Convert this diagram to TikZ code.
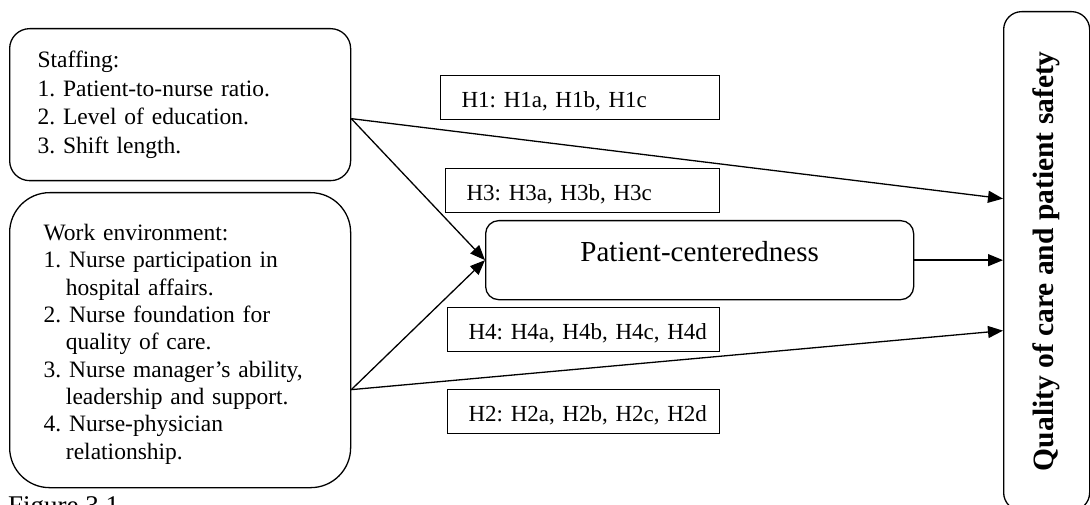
\documentclass[tikz,border=0pt]{standalone}
\usepackage{fontspec}
\setmainfont{Liberation Serif}
\usepackage{graphicx}
\usetikzlibrary{arrows.meta,positioning,calc}
\frenchspacing

\begin{document}
\begin{tikzpicture}[x=1pt,y=-1pt,>={Triangle[length=15pt,width=12pt]},
  every node/.style={font=\fontsize{23.5}{28.5}\selectfont},
  factor/.style={draw,line width=1.3pt,anchor=north west,align=left},
  hyp/.style={draw,line width=1.2pt,anchor=north west,align=left,
    inner xsep=0pt,inner ysep=0pt,text height=32pt,text depth=12pt,
    text width=#1,font=\fontsize{23}{28}\selectfont,
    execute at begin node={\hspace*{21pt}}},
  link/.style={->,line width=1.3pt}]
  \useasboundingbox (0,0) rectangle (1090,505);

  % predictors
  \node[factor,rounded corners=20pt,inner xsep=28pt,text width=285pt,
    minimum height=152pt] (staff) at (9,28)
    {Staffing:\\1. Patient-to-nurse ratio.\\2. Level of education.\\3. Shift length.};
  \node[factor,rounded corners=40pt,inner xsep=34pt,text width=273pt,
    minimum height=295pt,font=\fontsize{23.5}{27.3}\selectfont] (work) at (9,192)
    {\rule{0pt}{24.5pt}Work environment:\\
     1. Nurse participation in\\\hspace*{0.95em}hospital affairs.\\
     2. Nurse foundation for\\\hspace*{0.95em}quality of care.\\
     3. Nurse manager’s ability,\\\hspace*{0.95em}leadership and support.\\
     4. Nurse-physician\\\hspace*{0.95em}relationship.};
  \node[anchor=base west,inner sep=0pt,font=\fontsize{27}{32}\selectfont] (caption) at (8,514) {Figure 3.1};

  % mediator and outcome
  \node[draw,line width=1.3pt,rounded corners=13pt,anchor=north west,
    minimum width=428pt,inner sep=0pt,text height=41pt,text depth=38pt,
    font=\fontsize{29}{34}\selectfont] (centred) at (485,220) {Patient-centeredness};
  \node[draw,line width=1.3pt,rounded corners=18pt,anchor=north west,
    minimum width=86pt,minimum height=499pt,inner sep=0pt,
    font=\bfseries\fontsize{29.5}{34}\selectfont] (quality) at (1003,11)
    {\rotatebox{90}{Quality of care and patient safety}};

  % hypotheses
  \node[hyp=279pt] (h1) at (440,75) {H1: H1a, H1b, H1c};
  \node[hyp=274pt] (h3) at (445,168) {H3: H3a, H3b, H3c};
  \node[hyp=272pt] (h4) at (447,307) {H4: H4a, H4b, H4c, H4d};
  \node[hyp=272pt] (h2) at (447,389) {H2: H2a, H2b, H2c, H2d};

  % paths
  \coordinate (staffout) at ([yshift=-14pt]staff.east);
  \coordinate (workout) at ([yshift=-49.5pt]work.east);
  \coordinate (qtop) at ([yshift=62.5pt]quality.west);
  \coordinate (qbot) at ([yshift=-69.5pt]quality.west);
  \draw[link] (staffout) -- (centred.west);
  \draw[link] (workout) -- (centred.west);
  \draw[link] (staffout) -- (qtop);
  \draw[link] (workout) -- (qbot);
  \draw[link] (centred.east) -- (centred.east -| quality.west);
\end{tikzpicture}
\end{document}
